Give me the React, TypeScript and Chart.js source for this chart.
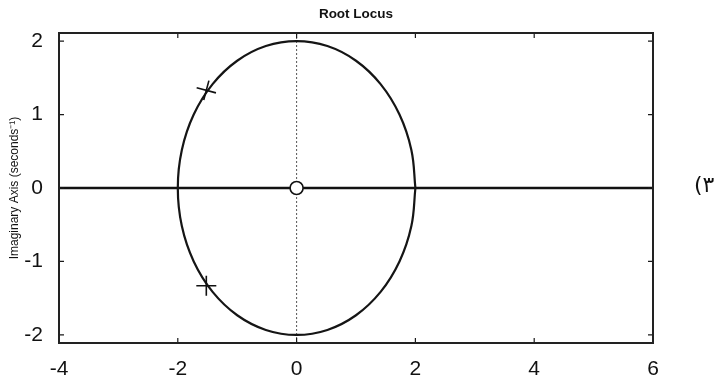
import React, { useEffect, useRef } from "react";
import { Chart, registerables } from "chart.js";

Chart.register(...registerables);

const chartTitle = "Root Locus";
const yAxisTitle = "Imaginary Axis (seconds\u207B\u00B9)";
const sideLabel = "(\u06F3";

const xTicks = [-4, -2, 0, 2, 4, 6];
const yTicks = [-2, -1, 0, 1, 2];
const xRange = [-4, 6];
const yRange = [-2.11, 2.11];

// locus circle (radius 2 about the origin)
const locusX = [2, 1.932, 1.732, 1.414, 1.0, 0.518, 0, -0.518, -1.0, -1.414, -1.732, -1.932, -2,
  -1.932, -1.732, -1.414, -1.0, -0.518, 0, 0.518, 1.0, 1.414, 1.732, 1.932, 2];
const locusY = [0, 0.518, 1.0, 1.414, 1.732, 1.932, 2, 1.932, 1.732, 1.414, 1.0, 0.518, 0,
  -0.518, -1.0, -1.414, -1.732, -1.932, -2, -1.932, -1.732, -1.414, -1.0, -0.518, 0];

const realAxisX = [-4, 6];
const poleX = [-1.52, -1.52];
const poleY = [1.33, -1.33];
const zeroX = [0];
const zeroY = [0];

const framePlugin = {
  id: "frame",
  afterDatasetsDraw(chart: any) {
    const { ctx, chartArea } = chart;
    const { left, right, top, bottom } = chartArea;
    const xs = chart.scales.x;
    const ys = chart.scales.y;
    ctx.save();
    ctx.strokeStyle = "#1a1a1a";
    ctx.lineWidth = 1.2;
    const tl = 5;
    ctx.beginPath();
    xTicks.forEach((v) => {
      const px = xs.getPixelForValue(v);
      ctx.moveTo(px, bottom);
      ctx.lineTo(px, bottom - tl);
      ctx.moveTo(px, top);
      ctx.lineTo(px, top + tl);
    });
    yTicks.forEach((v) => {
      const py = ys.getPixelForValue(v);
      ctx.moveTo(left, py);
      ctx.lineTo(left + tl, py);
      ctx.moveTo(right, py);
      ctx.lineTo(right - tl, py);
    });
    ctx.stroke();
    ctx.lineWidth = 2;
    ctx.strokeStyle = "#222";
    ctx.strokeRect(left, top, right - left, bottom - top);
    ctx.restore();
  },
};

export default function App() {
  const ref = useRef<HTMLCanvasElement>(null);
  useEffect(() => {
    if (!ref.current) return;
    const chart = new Chart(ref.current, {
      type: "scatter",
      data: {
        datasets: [
          {
            label: "zero",
            data: zeroX.map((x, i) => ({ x, y: zeroY[i] })),
            pointStyle: "circle",
            pointRadius: 6.5,
            backgroundColor: "#ffffff",
            borderColor: "#111",
            borderWidth: 1.6,
            showLine: false,
          },
          {
            label: "poles",
            data: poleX.map((x, i) => ({ x, y: poleY[i] })),
            pointStyle: "cross",
            pointRadius: 10,
            rotation: [15, 0],
            borderColor: "#111",
            borderWidth: 1.6,
            showLine: false,
          } as any,
          {
            label: "locus",
            data: locusX.map((x, i) => ({ x, y: locusY[i] })),
            showLine: true,
            tension: 0.4,
            borderColor: "#151515",
            borderWidth: 2.2,
            pointRadius: 0,
          },
          {
            label: "real",
            data: realAxisX.map((x) => ({ x, y: 0 })),
            showLine: true,
            borderColor: "#111",
            borderWidth: 2.6,
            pointRadius: 0,
          },
          {
            label: "imag",
            data: yRange.map((y) => ({ x: 0, y })),
            showLine: true,
            borderColor: "#555",
            borderWidth: 1,
            borderDash: [2, 2],
            pointRadius: 0,
          },
        ],
      },
      options: {
        responsive: false,
        animation: false,
        layout: { padding: { top: 0, right: 74, left: 0, bottom: 0 } },
        plugins: {
          legend: { display: false },
          tooltip: { enabled: false },
          title: {
            display: true,
            text: chartTitle,
            fullSize: false,
            color: "#111",
            font: { family: "Liberation Sans, Arial", size: 13.5, weight: "bold" },
            padding: { top: 6, bottom: 10.8 },
          },
        },
        scales: {
          x: {
            type: "linear",
            min: xRange[0],
            max: xRange[1],
            grid: { display: false },
            border: { display: false },
            afterBuildTicks: (s: any) => {
              s.ticks = xTicks.map((v) => ({ value: v }));
            },
            afterFit: (s: any) => {
              s.height = 38;
            },
            ticks: {
              color: "#111",
              padding: 6,
              maxRotation: 0,
              font: { family: "Liberation Sans, Arial", size: 21 },
            },
          },
          y: {
            type: "linear",
            min: yRange[0],
            max: yRange[1],
            grid: { display: false },
            border: { display: false },
            afterBuildTicks: (s: any) => {
              s.ticks = yTicks.map((v) => ({ value: v }));
            },
            afterFit: (s: any) => {
              s.width = 59;
            },
            title: {
              display: true,
              text: yAxisTitle,
              color: "#111",
              font: { family: "Liberation Sans, Arial", size: 12 },
              padding: { top: 7, bottom: 0 },
            },
            ticks: {
              color: "#111",
              padding: 8,
              font: { family: "Liberation Sans, Arial", size: 21 },
            },
          },
        },
      },
      plugins: [framePlugin],
    });
    return () => chart.destroy();
  }, []);

  return (
    <div style={{ position: "fixed", left: 0, top: 0, width: 727, height: 381, background: "#fff" }}>
      <canvas ref={ref} width={727} height={381} style={{ display: "block" }} />
      <span
        style={{
          position: "absolute",
          left: 694,
          top: 172,
          fontFamily: "'DejaVu Sans', 'Noto Sans', serif",
          fontSize: 22,
          color: "#111",
        }}
      >
        {sideLabel}
      </span>
    </div>
  );
}
